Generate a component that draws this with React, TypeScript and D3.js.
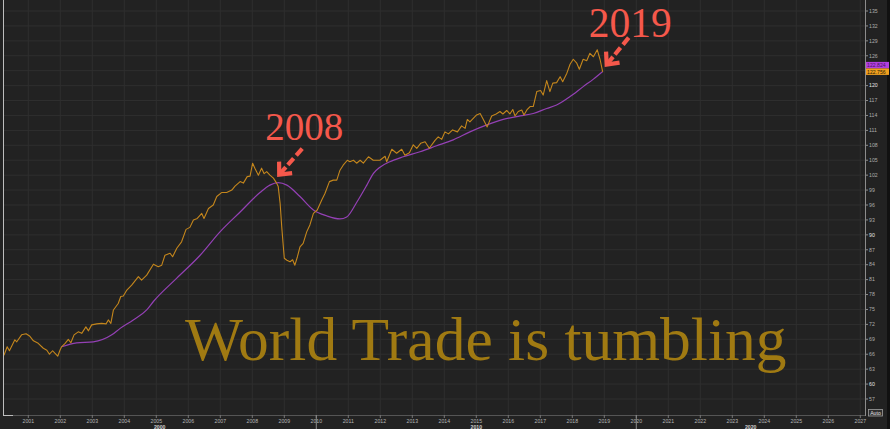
import React from "react";
import * as d3 from "d3";

const W = 890;
const H = 429;

// World trade volume index (orange)
const tradeYears = [
  2000.24, 2000.34, 2000.41, 2000.58, 2000.64, 2000.79, 2000.93, 2001.05, 2001.16, 2001.31,
  2001.47, 2001.58, 2001.66, 2001.76, 2001.83, 2001.92, 2001.99, 2002.04, 2002.15, 2002.25,
  2002.33, 2002.43, 2002.56, 2002.67, 2002.8, 2002.88, 2002.98, 2003.14, 2003.29, 2003.43,
  2003.5, 2003.58, 2003.66, 2003.81, 2003.89, 2003.97, 2004.08, 2004.23, 2004.44, 2004.54,
  2004.7, 2004.91, 2005.06, 2005.17, 2005.27, 2005.43, 2005.51, 2005.64, 2005.79, 2005.93,
  2006.05, 2006.16, 2006.28, 2006.42, 2006.49, 2006.63, 2006.78, 2006.89, 2007.04, 2007.2,
  2007.36, 2007.46, 2007.62, 2007.72, 2007.84, 2007.93, 2008.01, 2008.08, 2008.19, 2008.29,
  2008.37, 2008.45, 2008.55, 2008.66, 2008.76, 2008.81, 2008.87, 2008.92, 2008.97, 2009.0,
  2009.08, 2009.18, 2009.26, 2009.33, 2009.41, 2009.49, 2009.59, 2009.7, 2009.8, 2009.91,
  2010.03, 2010.17, 2010.27, 2010.41, 2010.53, 2010.64, 2010.74, 2010.84, 2010.97, 2011.05,
  2011.16, 2011.26, 2011.37, 2011.47, 2011.63, 2011.78, 2011.99, 2012.15, 2012.2, 2012.36,
  2012.51, 2012.67, 2012.77, 2012.91, 2013.03, 2013.14, 2013.26, 2013.4, 2013.53, 2013.71,
  2013.81, 2013.92, 2014.02, 2014.13, 2014.26, 2014.41, 2014.54, 2014.65, 2014.72, 2014.8,
  2015.01, 2015.12, 2015.22, 2015.34, 2015.48, 2015.62, 2015.74, 2015.83, 2015.95, 2016.05,
  2016.14, 2016.21, 2016.31, 2016.42, 2016.49, 2016.58, 2016.68, 2016.78, 2016.89, 2017.01,
  2017.09, 2017.2, 2017.3, 2017.39, 2017.51, 2017.62, 2017.7, 2017.83, 2017.93, 2018.03,
  2018.14, 2018.22, 2018.34, 2018.45, 2018.55, 2018.66, 2018.78, 2018.87, 2018.95,
];
const tradeValues = [
  65.8, 67.5, 66.7, 68.9, 68.5, 69.9, 70.1, 69.6, 68.7, 68.2,
  67.2, 66.8, 66.0, 66.7, 66.2, 65.6, 66.8, 67.5, 68.2, 69.0,
  68.3, 69.9, 70.5, 70.2, 71.5, 70.7, 71.9, 72.1, 72.2, 72.1,
  72.9, 72.2, 74.9, 76.2, 77.6, 77.7, 78.9, 79.9, 81.6, 80.9,
  81.9, 84.1, 83.6, 83.9, 85.9, 86.3, 85.6, 87.3, 88.6, 91.1,
  91.5, 93.0, 93.3, 94.3, 93.3, 95.3, 96.0, 97.7, 98.5, 98.5,
  99.0, 99.8, 100.7, 100.4, 101.7, 101.8, 104.4, 103.4, 102.0, 103.4,
  102.3, 102.7, 102.0, 101.4, 100.4, 99.7, 96.3, 91.6, 87.6, 85.3,
  84.9, 84.6, 85.0, 83.9, 85.6, 87.6, 88.3, 90.6, 92.0, 94.3,
  95.0, 97.0, 98.3, 100.7, 101.0, 101.0, 103.0, 104.0, 105.0, 104.7,
  105.0, 104.4, 105.0, 104.4, 105.7, 105.0, 105.0, 105.8, 104.7, 107.2,
  106.4, 107.2, 106.0, 106.5, 108.1, 107.4, 108.4, 108.7, 107.4, 109.0,
  109.7, 109.2, 110.7, 110.3, 111.1, 110.7, 111.9, 111.4, 113.2, 112.7,
  114.1, 114.4, 113.2, 111.7, 113.9, 114.3, 114.8, 114.3, 115.0, 114.3,
  115.2, 113.9, 114.8, 115.1, 114.1, 115.1, 115.8, 115.8, 118.8, 119.0,
  118.1, 121.0, 118.8, 120.5, 120.6, 121.8, 120.8, 122.5, 124.3, 125.3,
  124.5, 123.3, 125.3, 125.0, 126.5, 125.8, 127.2, 125.2, 122.756,
];

// Moving average (purple)
const maYears = [
  2002.04, 2002.51, 2003.03, 2003.61, 2003.87, 2004.28, 2004.7, 2004.91, 2005.64, 2006.37,
  2006.99, 2007.62, 2008.24, 2008.55, 2008.81, 2009.08, 2009.49, 2009.91, 2010.33, 2010.74,
  2010.95, 2011.26, 2011.58, 2011.78, 2011.99, 2012.3, 2012.72, 2013.24, 2013.76, 2014.28,
  2014.8, 2015.33, 2015.84, 2016.37, 2016.78, 2017.2, 2017.51, 2017.93, 2018.34, 2018.66,
  2018.95,
];
const maValues = [
  67.5, 68.3, 68.5, 69.9, 71.2, 72.9, 74.9, 76.6, 81.3, 85.9,
  90.6, 94.6, 98.5, 100.0, 100.5, 100.0, 97.7, 95.0, 93.8, 93.2,
  93.6, 96.5, 100.0, 102.3, 103.6, 104.7, 105.7, 106.7, 107.9, 109.1,
  110.7, 112.1, 113.2, 113.9, 114.4, 115.4, 116.1, 117.8, 119.8, 121.3,
  122.824,
];

const yearTicks = d3.range(2001, 2028);
const valueTicks = d3.range(57, 136, 3);
const decadeStarts = [2000, 2010, 2020];
const lastTrade = "122.756";
const lastMA = "122.824";
const title = "World Trade is tumbling";
const annotationLabels = ["2008", "2019"];
const annotationYears = [2008.81, 2018.95];
const annotationValues = [100.5, 122.82];

const BG = "#222222";
const GRID = "#2f2f2f";
const ORANGE = "#c4861c";
const PURPLE = "#9440b5";
const RED = "#f5584b";
const GOLD = "#a07a12";
const SANS = "'Liberation Sans', Arial, sans-serif";
const SERIF = "'Liberation Serif', 'Times New Roman', serif";

const plotLeft = 3;
const plotRight = 865;
const axisY = 415;

const x = d3.scaleLinear().domain([2001, 2027]).range([28.3, 860.3]);
const y = d3.scaleLinear().domain([57, 135]).range([399, 11]);

const tradePts: [number, number][] = tradeYears.map((t, i) => [t, tradeValues[i]]);
const maPts: [number, number][] = maYears.map((t, i) => [t, maValues[i]]);

const lineLin = d3
  .line<[number, number]>()
  .x((d) => x(d[0]))
  .y((d) => y(d[1]));
const lineSmooth = d3
  .line<[number, number]>()
  .x((d) => x(d[0]))
  .y((d) => y(d[1]))
  .curve(d3.curveMonotoneX);

// offsets of annotation parts relative to the anchored data point
const annoLayout = [
  { tip: [1, -8], tail: [24, -34], text: [-13, -43], size: 39 },
  { tip: [4, -7], tail: [26, -34], text: [-14, -35], size: 41.5 },
];

function Arrow({ px, py, i }: { px: number; py: number; i: number }) {
  const L = annoLayout[i];
  const tx = px + L.tip[0];
  const ty = py + L.tip[1];
  const sx = px + L.tail[0];
  const sy = py + L.tail[1];
  const dx = tx - sx;
  const dy = ty - sy;
  const len = Math.hypot(dx, dy);
  const ux = dx / len;
  const uy = dy / len;
  const arm = 13;
  const ang = (42 * Math.PI) / 180;
  const rot = (a: number) => [
    -(ux * Math.cos(a) - uy * Math.sin(a)) * arm,
    -(ux * Math.sin(a) + uy * Math.cos(a)) * arm,
  ];
  const a1 = rot(ang);
  const a2 = rot(-ang);
  const shaftEndX = tx - ux * 10;
  const shaftEndY = ty - uy * 10;
  const dashEndX = tx - ux * 13;
  const dashEndY = ty - uy * 13;
  return (
    <g stroke={RED} strokeWidth={4.2} fill="none">
      <line x1={sx} y1={sy} x2={dashEndX} y2={dashEndY} strokeDasharray="9 4" />
      <line x1={tx - ux * 2} y1={ty - uy * 2} x2={shaftEndX} y2={shaftEndY} />
      <path
        d={`M${tx + a1[0]},${ty + a1[1]} L${tx},${ty} L${tx + a2[0]},${ty + a2[1]}`}
        strokeLinejoin="miter"
      />
    </g>
  );
}

export default function App() {
  return (
    <svg
      width={W}
      height={H}
      style={{ position: "fixed", left: 0, top: 0, display: "block" }}
      xmlns="http://www.w3.org/2000/svg"
    >
      <rect x={0} y={0} width={W} height={H} fill={BG} />
      <rect x={887} y={0} width={3} height={H} fill="#111" />

      {/* grid */}
      {yearTicks.map((t) => (
        <line key={"gx" + t} x1={x(t)} x2={x(t)} y1={0} y2={axisY} stroke={GRID} strokeWidth={1} />
      ))}
      {valueTicks.map((v) => (
        <line key={"gy" + v} x1={plotLeft} x2={plotRight} y1={y(v)} y2={y(v)} stroke={GRID} strokeWidth={1} />
      ))}

      {/* title */}
      <text x={185} y={360} fontFamily={SERIF} fontSize={61.5} fill={GOLD}>
        {title}
      </text>

      {/* series */}
      <path d={lineSmooth(maPts) || ""} fill="none" stroke={PURPLE} strokeWidth={1.2} />
      <path d={lineLin(tradePts) || ""} fill="none" stroke={ORANGE} strokeWidth={1.1} strokeLinejoin="round" />

      {/* annotations */}
      {annotationLabels.map((lab, i) => {
        const px = x(annotationYears[i]);
        const py = y(annotationValues[i]);
        const L = annoLayout[i];
        return (
          <g key={lab}>
            <text x={px + L.text[0]} y={py + L.text[1]} fontFamily={SERIF} fontSize={L.size} fill={RED}>
              {lab}
            </text>
            <Arrow px={px} py={py} i={i} />
          </g>
        );
      })}

      {/* left frame line */}
      <line x1={3.5} x2={3.5} y1={0} y2={axisY} stroke="#bdbdbd" strokeWidth={1} />
      <line x1={3} x2={13} y1={axisY + 0.5} y2={axisY + 0.5} stroke="#bdbdbd" strokeWidth={1} />

      {/* bottom axis */}
      <line x1={13} x2={plotRight} y1={axisY + 0.5} y2={axisY + 0.5} stroke="#555" strokeWidth={1} />
      {yearTicks.map((t) => (
        <g key={"xt" + t}>
          <line x1={x(t)} x2={x(t)} y1={axisY} y2={axisY + 3} stroke="#777" strokeWidth={1} />
          <text x={x(t)} y={422.5} fontFamily={SANS} fontSize={5.2} fill="#b5b5b5" textAnchor="middle">
            {t}
          </text>
        </g>
      ))}
      {decadeStarts.map((d) => {
        const a = Math.max(x(d), plotLeft);
        const b = Math.min(x(d + 10), plotRight);
        return (
          <g key={"dec" + d}>
            {x(d) > plotLeft && (
              <line x1={x(d)} x2={x(d)} y1={axisY} y2={H} stroke="#8a8a8a" strokeWidth={1} />
            )}
            <text x={(a + b) / 2} y={428.5} fontFamily={SANS} fontSize={5.2} fontWeight="bold" fill="#cfcfcf" textAnchor="middle">
              {d}
            </text>
          </g>
        );
      })}

      {/* right axis */}
      <line x1={plotRight + 0.5} x2={plotRight + 0.5} y1={0} y2={axisY + 1} stroke="#8c8c8c" strokeWidth={1} />
      {valueTicks
        .filter((v) => v !== 123)
        .map((v) => (
          <g key={"yt" + v}>
            <line x1={plotRight} x2={plotRight + 3} y1={y(v)} y2={y(v)} stroke="#8c8c8c" strokeWidth={1} />
            <text
              x={plotRight + 4}
              y={y(v) + 1.8}
              fontFamily={SANS}
              fontSize={5.2}
              fill={v % 30 === 0 ? "#e6e6e6" : "#ababab"}
            >
              {v}
            </text>
          </g>
        ))}

      {/* last value badges */}
      <rect x={plotRight + 1} y={y(122.756) - 10} width={23} height={6.5} fill="#b23fe0" />
      <text x={plotRight + 2} y={y(122.756) - 4.8} fontFamily={SANS} fontSize={5.2} fill="#4a1460">
        {lastMA}
      </text>
      <rect x={plotRight + 1} y={y(122.756) - 3.5} width={23} height={6.5} fill="#f0a020" />
      <text x={plotRight + 2} y={y(122.756) + 1.7} fontFamily={SANS} fontSize={5.2} fill="#2a1a00">
        {lastTrade}
      </text>

      {/* Auto button */}
      <rect x={868.5} y={409.5} width={14} height={6.5} fill="#2e2e2e" stroke="#a0a0a0" strokeWidth={0.8} />
      <text x={875.5} y={414.6} fontFamily={SANS} fontSize={5.2} fill="#e0e0e0" textAnchor="middle">
        Auto
      </text>
    </svg>
  );
}
